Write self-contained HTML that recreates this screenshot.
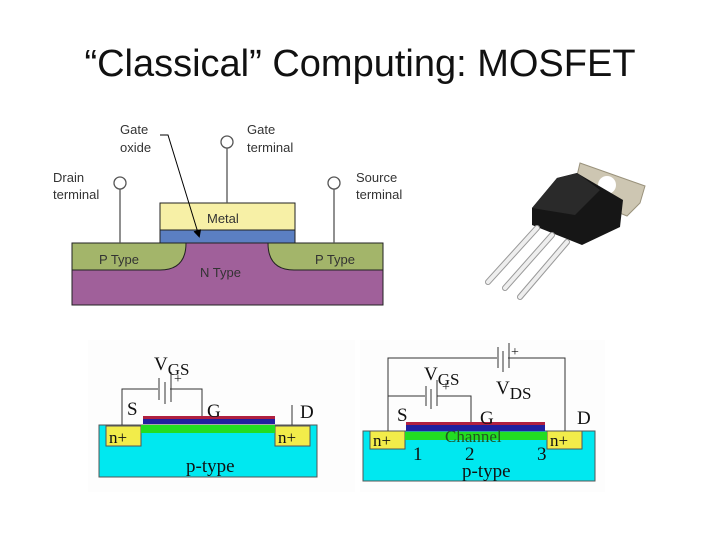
<!DOCTYPE html>
<html><head><meta charset="utf-8"><style>
body{margin:0;background:#fff;width:720px;height:540px;overflow:hidden;position:relative;font-family:"Liberation Sans",sans-serif}
.t{position:absolute;left:0;width:720px;top:43px;text-align:center;font-size:38px;color:#111}
svg{position:absolute;left:0;top:0}
</style></head><body>
<div class="t">“Classical” Computing: MOSFET</div>
<svg width="720" height="540" viewBox="0 0 720 540">
<defs><marker id="ah" markerWidth="8" markerHeight="8" refX="6" refY="4" orient="auto"><path d="M0,0 L8,4 L0,8z" fill="#000"/></marker></defs>
<rect x="72" y="243" width="311" height="62" fill="#a0609a" stroke="#222" stroke-width="1"/>
<path d="M72,243 H186 Q186,270 160,270 H72z" fill="#a3b56a" stroke="#222"/>
<path d="M383,243 H268 Q268,270 294,270 H383z" fill="#a3b56a" stroke="#222"/>
<rect x="160" y="203" width="135" height="27" fill="#f7f0a6" stroke="#222"/>
<rect x="160" y="230" width="135" height="13" fill="#5b7fc2" stroke="#222"/>
<g stroke="#555" stroke-width="1.3" fill="#fff">
<line x1="120" y1="189" x2="120" y2="243"/><circle cx="120" cy="183" r="6"/>
<line x1="227" y1="148" x2="227" y2="203"/><circle cx="227" cy="142" r="6"/>
<line x1="334" y1="189" x2="334" y2="243"/><circle cx="334" cy="183" r="6"/>
</g>
<polyline points="160,135 168,135 199,236" fill="none" stroke="#000" stroke-width="1" marker-end="url(#ah)"/>
<g font-size="13" fill="#333">
<text x="120" y="134">Gate</text><text x="120" y="152">oxide</text>
<text x="247" y="134">Gate</text><text x="247" y="152">terminal</text>
<text x="53" y="182">Drain</text><text x="53" y="199">terminal</text>
<text x="356" y="182">Source</text><text x="356" y="199">terminal</text>
<text x="207" y="223">Metal</text>
<text x="99" y="264">P Type</text><text x="315" y="264">P Type</text>
<text x="200" y="277">N Type</text>
</g>
<g>
<polygon points="580,163 645,186 640,203 627,216 600,205 576,180" fill="#cdc6b2" stroke="#9a927c"/>
<circle cx="607" cy="185" r="9" fill="#fff"/>
<polygon points="532,208 557,178 577,173 623,200 620,227 582,245 532,225" fill="#161616"/>
<polygon points="532,208 557,178 577,173 600,190 575,215" fill="#2a2a2a"/>
<g stroke="#999" stroke-width="6" stroke-linecap="round">
<line x1="537" y1="228" x2="488" y2="282"/>
<line x1="552" y1="235" x2="505" y2="288"/>
<line x1="567" y1="242" x2="520" y2="297"/>
</g>
<g stroke="#eee" stroke-width="4" stroke-linecap="round">
<line x1="537" y1="228" x2="488" y2="282"/>
<line x1="552" y1="235" x2="505" y2="288"/>
<line x1="567" y1="242" x2="520" y2="297"/>
</g>
</g>
<rect x="88" y="340" width="267" height="152" fill="#fdfdfd"/>
<rect x="99" y="425" width="218" height="52" fill="#00e8f0" stroke="#555"/>
<rect x="106" y="426" width="35" height="20" fill="#f2ec4a" stroke="#555"/>
<rect x="275" y="426" width="35" height="20" fill="#f2ec4a" stroke="#555"/>
<rect x="141" y="425" width="134" height="8" fill="#22dd22"/>
<rect x="143" y="419" width="132" height="5" fill="#2020a0"/>
<rect x="143" y="416" width="132" height="3" fill="#b02040"/>
<g stroke="#333" stroke-width="1" fill="none">
<polyline points="122,425 122,389 158,389"/><polyline points="170,389 202,389 202,416"/>
<line x1="159" y1="378" x2="159" y2="400"/><line x1="165" y1="382" x2="165" y2="404"/><line x1="171" y1="372" x2="171" y2="402"/>
<line x1="292" y1="405" x2="292" y2="425"/>
</g>
<g font-family="Liberation Serif,serif" font-size="19" fill="#111">
<text x="154" y="370">V<tspan font-size="17" dy="5">GS</tspan></text>
<text x="174" y="383" font-size="14">+</text>
<text x="127" y="415">S</text><text x="207" y="417">G</text><text x="300" y="418">D</text>
<text x="109" y="443" font-size="17">n+</text><text x="278" y="443" font-size="17">n+</text>
<text x="186" y="472">p-type</text>
</g>
<rect x="360" y="340" width="245" height="152" fill="#fdfdfd"/>
<rect x="363" y="431" width="232" height="50" fill="#00e8f0" stroke="#555"/>
<rect x="370" y="431" width="35" height="18" fill="#f2ec4a" stroke="#555"/>
<rect x="547" y="431" width="35" height="18" fill="#f2ec4a" stroke="#555"/>
<rect x="405" y="432" width="142" height="8" fill="#22dd22"/>
<rect x="406" y="425" width="139" height="6" fill="#2020a0"/>
<rect x="406" y="422" width="139" height="3" fill="#b02040"/>
<g stroke="#333" stroke-width="1" fill="none">
<polyline points="388,431 388,358 497,358"/><polyline points="508,358 565,358 565,431"/>
<line x1="498" y1="347" x2="498" y2="368"/><line x1="503" y1="351" x2="503" y2="372"/><line x1="509" y1="343" x2="509" y2="368"/>
<polyline points="388,396 425,396"/><polyline points="437,396 471,396 471,422"/>
<line x1="426" y1="386" x2="426" y2="406"/><line x1="431" y1="389" x2="431" y2="409"/><line x1="437" y1="380" x2="437" y2="406"/>
</g>
<g font-family="Liberation Serif,serif" font-size="19" fill="#111">
<text x="511" y="356" font-size="14">+</text>
<text x="442" y="391" font-size="14">+</text>
<text x="424" y="380">V<tspan font-size="17" dy="5">GS</tspan></text>
<text x="496" y="394">V<tspan font-size="17" dy="5">DS</tspan></text>
<text x="397" y="421">S</text><text x="480" y="424">G</text><text x="577" y="424">D</text>
<text x="373" y="446" font-size="17">n+</text><text x="550" y="446" font-size="17">n+</text>
<text x="445" y="442" font-size="17" fill="#225522">Channel</text>
<text x="413" y="460">1</text><text x="465" y="460">2</text><text x="537" y="460">3</text>
<text x="462" y="477">p-type</text>
</g>
</svg>
</body></html>
